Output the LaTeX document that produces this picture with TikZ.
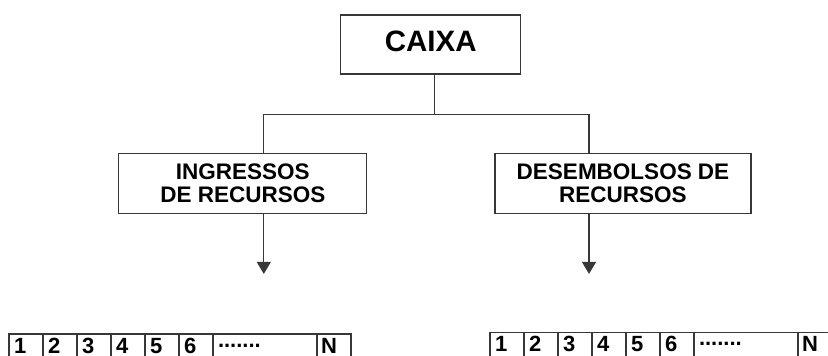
\documentclass[tikz,border=0pt]{standalone}
\usepackage{fontspec}
\setmainfont{Liberation Sans}
\usetikzlibrary{arrows.meta,positioning,calc}
\definecolor{boxGray}{RGB}{55,55,55}

\begin{document}
\begin{tikzpicture}[x=1pt,y=-1pt,>={Triangle[width=14pt,length=12pt]},
  box/.style={draw=boxGray,line width=1.2pt,align=center,inner sep=0pt,font=\fontsize{22.5}{22.5}\selectfont\bfseries},
  cell/.style={draw=boxGray,line width=1.2pt,outer sep=0pt,minimum height=30pt,text depth=6pt,text width=24pt,inner xsep=5pt,inner ysep=0pt,align=left,font=\fontsize{22}{22}\selectfont\bfseries},
  link/.style={draw=boxGray,line width=1.2pt}]
\useasboundingbox (0,0) rectangle (828,356);
\clip (0,0) rectangle (828,356);
\node[box,minimum width=180pt,minimum height=59pt] (caixa) at (430.7,44.4) {\fontsize{29.5}{29.5}\selectfont\raisebox{7pt}{CAIXA}};
\node[box,minimum width=248pt,minimum height=60pt] (ingr) at (242.8,183.3) {INGRESSOS\\DE RECURSOS};
\node[box,minimum width=256pt,minimum height=60pt] (desemb) at (623,183.3) {DESEMBOLSOS DE\\RECURSOS};
\draw[link] ([xshift=4pt]caixa.south) -- ++(0,40) coordinate (split);
\draw[link] ([xshift=21pt]ingr.north) |- (split) -| ([xshift=-34pt]desemb.north);
\coordinate (ingrTip) at ([xshift=21pt,yshift=-60pt]ingr.south);
\coordinate (desembTip) at ([xshift=-34pt,yshift=-60pt]desemb.south);
\draw[link,->] ([xshift=21pt]ingr.south) -- (ingrTip);
\draw[link,->] ([xshift=-34pt]desemb.south) -- (desembTip);
% periodos do fluxo
\node[cell,anchor=north west] (in1) at (9,334) {1};
\node[cell,anchor=north west] (out1) at (490,332.3) {1};
\foreach \row in {in,out}{
  \foreach \i [count=\j from 1] in {2,...,6}
    \node[cell,right=0pt of \row\j] (\row\i) {\i};
  \node[cell,text width=94pt,inner xsep=5pt,right=0pt of \row6] (\row dots) {.......};
  \node[cell,inner xsep=4pt,text width=26pt,right=0pt of \row dots] (\row N) {N};
}
\end{tikzpicture}
\end{document}
